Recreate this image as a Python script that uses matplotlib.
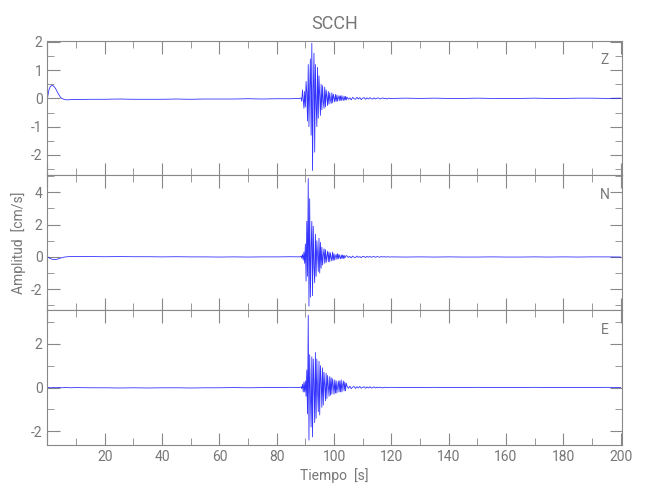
import numpy as np
import matplotlib
matplotlib.use("Agg")
import matplotlib.pyplot as plt
from matplotlib.ticker import MultipleLocator

# sample times (s)
pre_t = [0, 0.5, 1, 1.5, 2, 2.5, 3, 3.5, 4, 4.5, 5, 6, 7, 8, 10, 15, 20, 25,
         30, 35, 40, 45, 50, 55, 60, 65, 70, 75, 80, 85, 88]
burst_t = np.arange(88.5, 104.5, 0.25)
coda_t = np.arange(104.5, 120, 0.5)
post_t = [120, 125, 130, 135, 140, 145, 150, 155, 160, 165, 170, 175, 180,
          185, 190, 195, 200]

# Z component (cm/s)
z_pre = [0, 0.3, 0.42, 0.46, 0.45, 0.4, 0.32, 0.22, 0.13, 0.05,
         0.0, -0.04, -0.05, -0.04, -0.04, -0.03, -0.03, -0.02, -0.03, -0.03,
         -0.03, -0.02, -0.03, -0.02, -0.02, -0.02, -0.01, -0.02, -0.01, -0.01, 0.0]
z_burst = [0.02, -0.1, 0.3, -0.05, -0.35, 0.25, -0.3, 0.6, 0.2, -0.8,
           1.2, -1.0, 0.4, 1.4, -1.3, 1.95, -2.55, 0.3, 1.6, -1.9,
           1.2, -0.2, -1.0, 1.1, -0.7, 0.8, 0.1, -0.6, 0.5, -0.4,
           0.45, -0.1, -0.35, 0.4, -0.3, 0.3, 0.05, -0.25, 0.25, -0.2,
           0.2, -0.05, -0.18, 0.2, -0.15, 0.15, 0.02, -0.12, 0.14, -0.1,
           0.12, -0.1, 0.03, 0.1, -0.08, 0.09, -0.08, 0.1, -0.02, -0.07,
           0.08, -0.06, 0.07, -0.06]
z_coda = [0.05, -0.03, 0.02, -0.05, 0.04, -0.01, -0.03, 0.04, -0.02, 0.03,
          -0.04, 0.01, 0.03, -0.03, 0.02, -0.02, 0.03, -0.01, -0.02, 0.02,
          -0.02, 0.01, 0.02, -0.02, 0.0, 0.02, -0.01, 0.01, -0.02, 0.01, 0.0]
z_post = [0.0, 0.01, 0.0, 0.01, 0.0, 0.0, 0.01, 0.0, 0.0, 0.0, 0.01, 0.0,
          0.0, 0.01, 0.01, 0.0, 0.01]

# N component
n_pre = [0, -0.05, -0.1, -0.14, -0.16, -0.17, -0.16, -0.14, -0.11, -0.08,
         -0.05, -0.01, 0.01, 0.02, 0.02, 0.02, 0.01, 0.02, 0.01, 0.01,
         0.0, 0.01, 0.0, 0.0, -0.01, 0.0, -0.01, 0.0, 0.0, 0.01, 0.0]
n_burst = [0.05, -0.08, 0.15, -0.2, 0.3, -0.4, 0.8, -1.5, 2.2, -1.2,
           4.85, -3.05, 3.6, -2.5, 0.5, 2.2, -2.4, 1.9, -0.6, -1.6,
           1.4, -1.2, 1.0, 0.2, -0.9, 1.15, -1.0, 0.9, -0.7, 0.6,
           -0.5, 0.1, 0.5, -0.4, 0.45, -0.35, 0.05, 0.35, -0.3, 0.3,
           -0.3, 0.25, -0.05, -0.25, 0.3, -0.2, 0.2, -0.2, 0.05, 0.15,
           -0.15, 0.2, -0.12, 0.15, -0.02, -0.12, 0.12, -0.1, 0.12, -0.1,
           0.1, -0.08, 0.02, 0.08]
n_coda = [0.06, -0.04, 0.03, -0.06, 0.05, -0.02, -0.04, 0.05, -0.03, 0.02,
          -0.05, 0.03, 0.02, -0.04, 0.03, -0.02, 0.03, -0.03, 0.01, 0.02,
          -0.03, 0.02, 0.0, -0.02, 0.02, -0.01, 0.02, -0.02, 0.01, 0.0, -0.01]
n_post = [0.0, -0.01, 0.0, -0.01, 0.0, -0.01, -0.01, 0.0, -0.01, -0.01, 0.0,
          -0.01, 0.0, -0.01, 0.0, 0.0, -0.01]

# E component
e_pre = [0, 0.0, -0.01, -0.01, 0.0, 0.0, -0.01, 0.0, 0.0, 0.0,
         -0.01, 0.0, 0.0, -0.01, 0.0, -0.01, -0.01, -0.02, -0.01, -0.02,
         -0.01, -0.01, -0.02, -0.01, -0.01, 0.0, -0.01, 0.0, 0.0, 0.01, 0.0]
e_burst = [0.03, -0.05, 0.15, -0.2, 0.25, -0.2, 0.3, -0.4, 0.8, -1.2,
           3.3, -2.4, 1.5, -0.3, -1.8, 1.4, -2.25, 1.3, 0.2, -1.6,
           1.6, -1.4, 1.3, -0.2, -1.1, 1.2, -1.25, 1.0, 0.3, -0.9,
           0.9, -0.8, 0.7, 0.1, -0.6, 0.65, -0.5, 0.55, 0.05, -0.4,
           0.5, -0.35, 0.45, -0.3, 0.4, 0.1, -0.3, 0.35, -0.25, 0.3,
           -0.25, 0.05, 0.3, -0.2, 0.3, -0.2, 0.35, -0.2, 0.1, 0.3,
           -0.15, 0.25, -0.15, 0.2]
e_coda = [0.08, -0.04, 0.06, -0.05, 0.02, 0.05, -0.04, 0.04, -0.02, 0.05,
          -0.03, 0.01, 0.04, -0.03, 0.03, -0.02, 0.04, -0.02, 0.0, 0.03,
          -0.02, 0.02, -0.01, 0.02, 0.0, -0.02, 0.02, -0.01, 0.01, 0.0, 0.01]
e_post = [0.01, 0.0, 0.0, 0.01, 0.0, 0.0, 0.01, 0.0, 0.0, 0.0, 0.01, 0.0,
          0.0, 0.0, 0.0, 0.01, 0.0]

components = ["Z", "N", "E"]

plt.rcParams['font.family'] = ['Roboto', 'DejaVu Sans']
plt.rcParams['axes.unicode_minus'] = False

t = np.concatenate([pre_t, burst_t, coda_t, post_t])
traces = [
    np.concatenate([z_pre, z_burst, z_coda, z_post]),
    np.concatenate([n_pre, n_burst, n_coda, n_post]),
    np.concatenate([e_pre, e_burst, e_coda, e_post]),
]
ylims = [(-2.72, 2.05), (-3.3, 5.05), (-2.62, 3.53)]
majors = [1, 2, 2]
minors = [0.5, 1, 1]

fig, axes = plt.subplots(3, 1, sharex=True, figsize=(6.5, 5), dpi=100)
fig.subplots_adjust(left=0.073, right=0.957, top=0.919, bottom=0.11, hspace=0)

grey = '#888888'
txt = '#777777'
for ax, name, y, lim, mj, mn in zip(axes, components, traces, ylims, majors, minors):
    ax.plot(t, y, color='blue', lw=0.6, alpha=0.8)
    ax.set_xlim(0, 200.5)
    ax.set_ylim(*lim)
    ax.yaxis.set_major_locator(MultipleLocator(mj))
    ax.yaxis.set_minor_locator(MultipleLocator(mn))
    ax.xaxis.set_major_locator(MultipleLocator(20))
    ax.xaxis.set_minor_locator(MultipleLocator(10))
    ax.tick_params(which='both', direction='in', top=True, right=True,
                   color=grey, labelcolor=txt, labelsize=10)
    ax.tick_params(which='major', length=9)
    ax.tick_params(which='minor', length=5)
    for s in ax.spines.values():
        s.set_color(grey)
    ax.text(0.97, 0.855, name, transform=ax.transAxes, color=txt,
            fontsize=10, ha='center', va='center')

axes[0].set_title("SCCH", color=txt, fontsize=13, pad=8)
axes[1].set_ylabel("Amplitud  [cm/s]", color=txt, fontsize=10, labelpad=4)
axes[2].set_xlabel("Tiempo  [s]", color=txt, fontsize=10, labelpad=3)
axes[2].xaxis.set_major_formatter(plt.FuncFormatter(lambda v, p: '' if v == 0 else f'{v:.0f}'))

fig.savefig("out.png", dpi=100)
